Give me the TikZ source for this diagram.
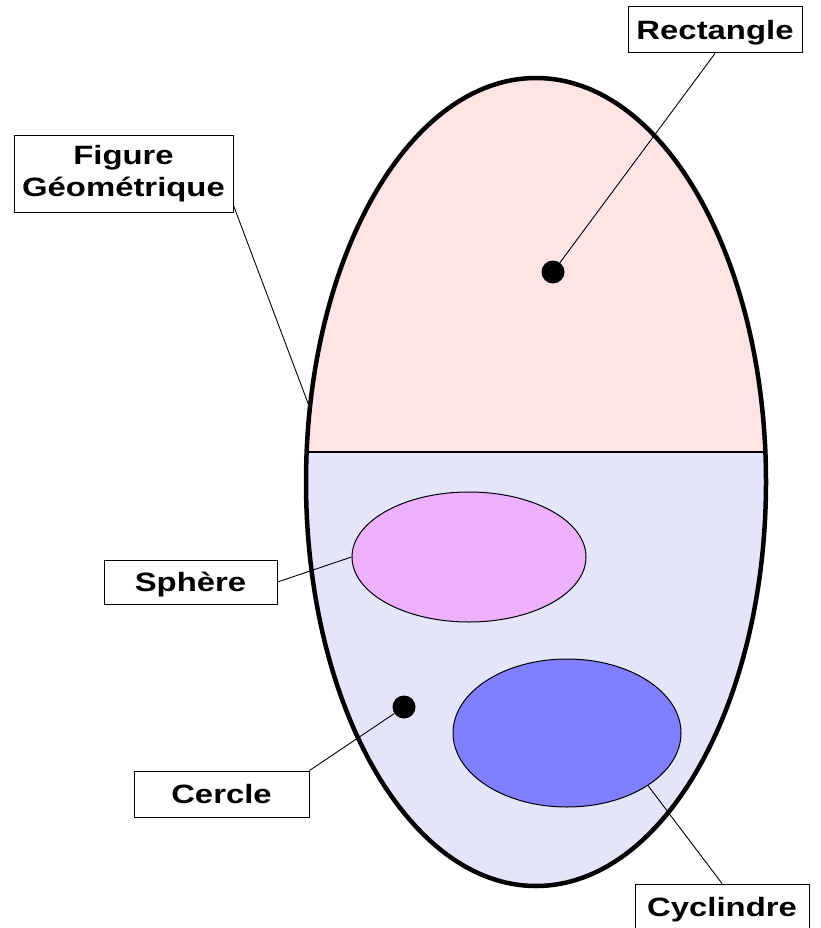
\documentclass[tikz,border=0pt]{standalone}
\usepackage{fontspec}
\setmainfont{Liberation Sans}[FakeStretch=1.24]
\usetikzlibrary{shapes.geometric,calc}
\definecolor{pinkA}{RGB}{253,229,229}
\definecolor{lavA}{RGB}{228,228,250}
\definecolor{sphC}{RGB}{236,176,252}
\definecolor{cylC}{RGB}{128,128,255}
\begin{document}
\begin{tikzpicture}[x=1pt,y=-1pt,
  lbl/.style={draw=black, line width=1pt, fill=white, inner sep=0pt, align=center,
    font=\fontsize{26.5}{32}\selectfont\bfseries},
  one/.style={text height=19pt, text depth=0pt},
  dotm/.style={circle, fill=black, minimum size=23pt, inner sep=0pt},
  lead/.style={draw=black, line width=0.9pt},
  sub/.style={ellipse, draw=black, line width=1pt, inner sep=0pt}]
\useasboundingbox (0,0) rectangle (821,928);
% big ellipse fills
\begin{scope}
  \clip (290,0) rectangle (790,452);
  \fill[pinkA] (536,482) ellipse [x radius=230, y radius=404];
\end{scope}
\begin{scope}
  \clip (290,452) rectangle (790,928);
  \fill[lavA] (536,482) ellipse [x radius=230, y radius=404];
\end{scope}
\draw[line width=2.8pt] (306.6,452) -- (765.4,452);
\node[ellipse, draw=black, line width=4.5pt, minimum width=460pt, minimum height=808pt, inner sep=0pt] (fig) at (536,482) {};
% inner shapes
\node[sub, fill=sphC, minimum width=234pt, minimum height=130pt] (sphere) at (469,557) {};
\node[sub, fill=cylC, minimum width=228pt, minimum height=148pt] (cyl) at (567,733) {};
\node[dotm] (rdot) at (553,272) {};
\node[dotm] (cdot) at (404,707) {};
% labels
\node[lbl, one, minimum width=174pt, minimum height=46pt] (rect) at (715,30) {Rectangle};
\node[lbl, minimum width=219pt, minimum height=76pt] (figbox) at (123.5,174) {Figure\\Géométrique};
\node[lbl, one, minimum width=173pt, minimum height=44pt] (sph) at (190.5,582) {Sphère};
\node[lbl, one, minimum width=175pt, minimum height=46pt] (cer) at (221.5,794) {Cercle};
\node[lbl, one, minimum width=174pt, minimum height=46pt] (cyb) at (722,907) {Cyclindre};
% leaders
\coordinate (figstart) at ($(figbox.south east)+(0,-7)$);
\draw[lead] (rect.south) -- (rdot);
\draw[lead] (figstart) -- (fig.161.3);
\draw[lead] (sph.east) -- (sphere.west);
\draw[lead] (cer.north east) -- (cdot);
\draw[lead] (cyl.-33) -- (cyb.north);
\end{tikzpicture}
\end{document}
